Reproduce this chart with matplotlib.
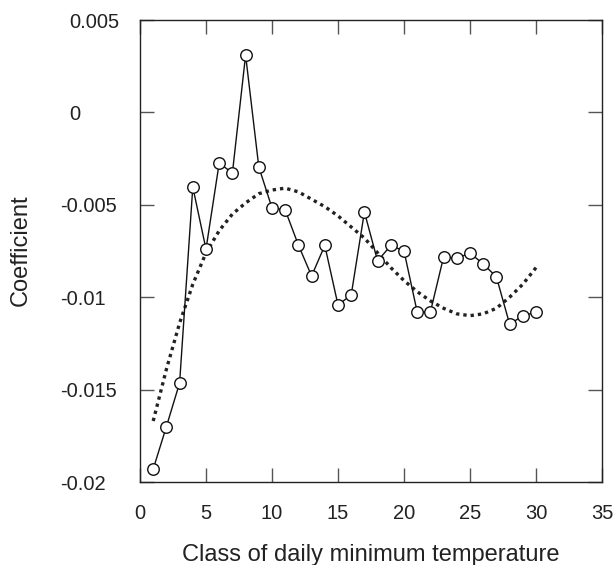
import matplotlib
matplotlib.use("Agg")
import matplotlib.pyplot as plt
from matplotlib.transforms import ScaledTranslation

# observed coefficients per temperature class
classes = list(range(1, 31))
coef = [-0.0193, -0.0170, -0.01464, -0.00404, -0.0074, -0.00274, -0.00328, 0.0031,
        -0.00295, -0.00517, -0.00528, -0.00718, -0.00885, -0.0072, -0.01042, -0.00988,
        -0.00539, -0.00804, -0.0072, -0.0075, -0.0108, -0.0108, -0.00782, -0.0079,
        -0.00761, -0.0082, -0.0089, -0.01145, -0.01102, -0.0108]

# fitted trend (dotted), read at each class
trend = [-0.0167, -0.0139, -0.0114, -0.0093, -0.0076, -0.0064, -0.0055, -0.0049,
         -0.0044, -0.0042, -0.0041, -0.0043, -0.0047, -0.0051, -0.0056, -0.0062,
         -0.0068, -0.0076, -0.0084, -0.0091, -0.0097, -0.0102, -0.0106, -0.0109,
         -0.0110, -0.0109, -0.0106, -0.0100, -0.0093, -0.0084]

xticks = [0, 5, 10, 15, 20, 25, 30, 35]
yticks = [0.005, 0, -0.005, -0.01, -0.015, -0.02]
ytick_labels = ["0.005", "0", "-0.005", "-0.01", "-0.015", "-0.02"]

plt.rcParams['font.family'] = ['Liberation Sans', 'DejaVu Sans']

fig = plt.figure(figsize=(6.16, 5.65), dpi=100)
ax = fig.add_axes([140 / 616, 1 - 482 / 565, 462 / 616, 462 / 565])

ax.plot(classes, trend, color='#222222', lw=2.4, linestyle=(0, (1, 1.2)))
ax.plot(classes, coef, color='#111111', lw=1.0, marker='o', markersize=8.3,
        markerfacecolor='white', markeredgecolor='#111111', markeredgewidth=1.0)

ax.set_xlim(0, 35)
ax.set_ylim(-0.02, 0.005)
ax.set_xticks(xticks)
ax.set_yticks(yticks)
ax.set_yticklabels(ytick_labels, ha='left')
ax.tick_params(direction='in', length=10, width=1, color='#555555',
               top=True, right=True, labelsize=14.5, labelcolor='#222222')
ax.tick_params(axis='y', pad=57.6)
ax.tick_params(axis='x', pad=16)

# labels without a minus sign start a bit further right
for lab in ax.get_yticklabels():
    if not lab.get_text().startswith('-'):
        lab.set_transform(lab.get_transform() + ScaledTranslation(9 / 100, 0, fig.dpi_scale_trans))

for s in ax.spines.values():
    s.set_linewidth(1.0)
    s.set_color('#222222')

ax.set_xlabel('Class of daily minimum temperature', fontsize=17, color='#222222')
ax.set_ylabel('Coefficient', fontsize=17, color='#222222')
ax.xaxis.set_label_coords(0.5, -0.134)
ax.yaxis.set_label_coords(-0.234, 0.502)

fig.savefig('out.png', dpi=100)
